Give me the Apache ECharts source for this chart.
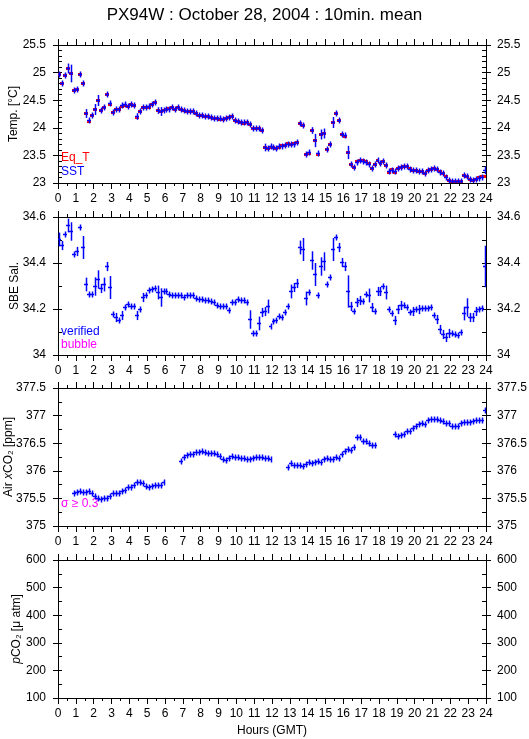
<!DOCTYPE html>
<html><head><meta charset="utf-8">
<script src="https://cdn.jsdelivr.net/npm/echarts@6/dist/echarts.min.js"></script>
<style>html,body{margin:0;padding:0;background:#fff}#c{width:529px;height:739px}</style>
</head><body><div id="c"></div><script>
// 10-minute means, index i -> hour (i+0.5)/6
const sst = [
24.97,24.82,24.95,25.09,24.99,24.68,24.70,24.97,24.82,24.26,
24.14,24.24,24.34,24.50,24.32,24.38,24.61,24.45,24.29,24.34,
24.34,24.41,24.43,24.40,24.44,24.41,24.21,24.30,24.38,24.38,
24.39,24.44,24.47,24.33,24.30,24.32,24.34,24.34,24.38,24.34,
24.37,24.34,24.32,24.31,24.31,24.31,24.26,24.23,24.23,24.22,
24.22,24.19,24.17,24.17,24.17,24.16,24.18,24.19,24.21,24.15,
24.13,24.11,24.10,24.10,24.06,24.00,24.00,24.00,23.96,23.66,
23.64,23.67,23.65,23.64,23.67,23.67,23.68,23.71,23.70,23.71,
23.74,24.08,24.05,23.52,23.56,23.96,23.77,23.54,23.88,23.90,
23.62,23.71,24.10,24.26,24.15,23.88,23.87,23.56,23.35,23.29,
23.38,23.41,23.40,23.38,23.35,23.28,23.34,23.41,23.36,23.39,
23.33,23.21,23.24,23.21,23.27,23.29,23.30,23.30,23.26,23.23,
23.24,23.22,23.22,23.19,23.23,23.25,23.27,23.26,23.20,23.18,
23.11,23.06,23.04,23.04,23.04,23.04,23.14,23.13,23.08,23.05,
23.07,23.09,23.11,23.24];
const sstErr = [
.05,.04,.02,.09,.16,.03,.05,.03,.04,.08,
.01,.03,.10,.10,.04,.04,.02,.05,.04,.04,
.04,.03,.02,.02,.02,.05,.06,.03,.03,.03,
.02,.03,.03,.06,.08,.02,.02,.02,.03,.03,
.01,.01,.01,.01,.01,.01,.02,.01,.01,.01,
.01,.01,.01,.01,.01,.01,.01,.01,.01,.01,
.01,.01,.01,.01,.02,.01,.01,.01,.05,.07,
.02,.01,.01,.01,.01,.01,.01,.02,.02,.03,
.02,.04,.04,.04,.03,.06,.12,.02,.09,.09,
.02,.03,.10,.02,.03,.04,.02,.12,.02,.01,
.04,.01,.01,.01,.02,.01,.02,.01,.03,.01,
.03,.02,.01,.02,.01,.01,.01,.01,.01,.01,
.01,.01,.01,.01,.01,.01,.01,.01,.01,.02,
.01,.01,.01,.01,.01,.01,.02,.03,.01,.01,
.01,.01,.01,.07];
const eqT = [
24.97,24.82,24.95,25.09,24.99,24.68,24.70,24.97,24.82,24.26,
24.13,24.24,24.34,24.50,24.32,24.38,24.61,24.44,24.29,24.34,
24.34,24.40,24.42,24.39,24.44,24.41,24.20,24.30,24.37,24.37,
24.38,24.44,24.47,24.33,24.30,24.32,24.34,24.36,24.37,24.34,
24.37,24.34,24.32,24.31,24.31,24.31,24.26,24.23,24.23,24.22,
24.21,24.19,24.18,24.17,24.16,24.16,24.18,24.19,24.21,24.14,
24.13,24.11,24.09,24.10,24.06,24.00,24.00,24.00,23.96,23.66,
23.63,23.66,23.65,23.63,23.66,23.68,23.69,23.72,23.71,23.72,
23.75,24.09,24.05,23.52,23.55,23.96,23.77,23.53,23.88,23.90,
23.61,23.71,24.10,24.26,24.15,23.88,23.86,23.56,23.34,23.29,
23.39,23.42,23.41,23.39,23.36,23.28,23.35,23.42,23.37,23.40,
23.33,23.20,23.25,23.20,23.27,23.29,23.31,23.30,23.27,23.23,
23.24,23.22,23.21,23.19,23.24,23.26,23.27,23.26,23.21,23.18,
23.12,23.06,23.04,23.03,23.03,23.03,23.15,23.13,23.08,23.06,
23.07,23.10,23.12,23.12];
const sal = [
34.505,34.48,34.527,34.564,34.54,34.437,34.452,34.556,34.469,34.309,
34.266,34.266,34.30,34.33,34.29,34.31,34.389,34.295,34.179,34.167,
34.153,34.176,34.208,34.22,34.215,34.215,34.176,34.20,34.251,34.259,
34.283,34.288,34.292,34.273,34.251,34.28,34.28,34.266,34.259,34.259,
34.263,34.259,34.254,34.259,34.261,34.261,34.248,34.244,34.244,34.24,
34.237,34.234,34.232,34.219,34.215,34.211,34.211,34.196,34.232,34.232,
34.244,34.241,34.24,34.23,34.157,34.096,34.096,34.138,34.186,34.193,
34.211,34.125,34.15,34.153,34.169,34.167,34.186,34.215,34.28,34.295,
34.312,34.469,34.462,34.248,34.273,34.411,34.353,34.259,34.389,34.408,
34.309,34.341,34.462,34.513,34.469,34.404,34.389,34.28,34.215,34.19,
34.23,34.24,34.234,34.266,34.263,34.208,34.193,34.277,34.277,34.302,
34.273,34.20,34.182,34.153,34.20,34.219,34.219,34.208,34.186,34.193,
34.20,34.20,34.203,34.205,34.203,34.208,34.176,34.157,34.113,34.092,
34.077,34.094,34.094,34.092,34.089,34.099,34.182,34.208,34.164,34.164,
34.19,34.20,34.205,34.385];
const salErr = [
.03,.02,.01,.03,.04,.01,.02,.01,.05,.03,
.01,.01,.04,.04,.02,.03,.02,.05,.01,.02,
.01,.02,.01,.01,.01,.01,.02,.01,.02,.01,
.01,.01,.01,.03,.04,.01,.01,.01,.01,.01,
.01,.01,.005,.005,.005,.01,.005,.005,.005,.005,
.005,.005,.005,.005,.005,.005,.005,.005,.005,.005,
.005,.005,.005,.01,.04,.01,.01,.03,.02,.02,
.03,.005,.01,.01,.01,.01,.01,.01,.03,.02,
.02,.03,.05,.03,.01,.04,.05,.01,.04,.04,
.01,.01,.05,.01,.02,.02,.02,.07,.02,.01,
.02,.02,.01,.01,.03,.02,.01,.02,.02,.01,
.03,.01,.01,.02,.02,.02,.01,.01,.01,.02,
.01,.02,.01,.01,.01,.01,.01,.02,.02,.02,
.02,.02,.01,.01,.01,.01,.03,.04,.02,.02,
.02,.01,.01,.09];
const xco2 = [
null,null,null,null,null,375.60,375.61,375.63,375.61,375.61,
375.63,375.59,375.54,375.51,375.49,375.50,375.51,375.55,375.60,375.60,
375.59,375.63,375.65,375.70,375.70,375.75,375.80,375.80,375.77,375.73,
375.70,375.73,375.75,375.75,375.75,375.80,null,null,null,null,
null,376.17,376.25,376.28,376.30,376.31,376.34,376.34,376.36,376.34,
376.33,376.33,376.33,376.30,376.27,376.22,376.19,376.23,376.27,376.25,
376.25,376.23,376.23,376.22,376.22,376.23,376.25,376.25,376.25,376.23,
376.23,376.22,null,null,null,null,null,376.07,376.14,376.11,
376.11,376.10,376.08,376.13,376.16,376.14,376.16,376.17,376.16,376.22,
376.23,376.22,376.22,376.25,376.23,376.31,376.36,376.39,376.38,376.43,
376.61,376.61,376.54,376.54,376.51,376.46,376.46,null,null,null,
null,null,null,376.66,376.63,376.64,376.66,376.72,376.73,376.78,
376.81,376.84,376.86,376.84,376.92,376.93,376.93,376.93,376.92,376.91,
376.87,376.86,376.82,376.82,376.82,376.87,376.88,376.88,376.88,376.90,
376.92,376.92,376.92,377.11];
const xco2Err = [
0,0,0,0,0,.03,.03,.05,.03,.03,
.03,.02,.02,.03,.02,.02,.02,.02,.02,.02,
.02,.02,.02,.03,.02,.02,.03,.02,.02,.02,
.02,.02,.02,.02,.02,.02,0,0,0,0,
0,.04,.02,.02,.02,.02,.02,.03,.02,.02,
.02,.02,.02,.02,.02,.02,.04,.02,.02,.02,
.02,.02,.02,.02,.02,.02,.02,.02,.02,.02,
.02,.03,0,0,0,0,0,.03,.03,.02,
.02,.02,.02,.02,.02,.02,.02,.02,.02,.02,
.02,.02,.02,.02,.02,.02,.02,.02,.02,.02,
.05,.05,.03,.02,.02,.02,.02,0,0,0,
0,0,0,.03,.02,.02,.02,.02,.02,.02,
.02,.02,.02,.02,.02,.02,.02,.02,.02,.02,
.02,.02,.02,.02,.02,.02,.02,.02,.02,.02,
.02,.02,.02,.05];
const hourLabels = ['0','1','2','3','4','5','6','7','8','9','10','11','12','13','14','15','16','17','18','19','20','21','22','23','24'];

const FONT = '"Liberation Sans", Arial, Helvetica, sans-serif';
const BLUE = '#0000ff', RED = '#ff0000', MAG = '#ff00ff';
const tops = [45, 217, 388, 560];
const H = 138;
const panels = [
  {min:23, max:25.5, interval:0.5, minor:0.1, name:'Temp. [°C]', gap:38},
  {min:34, max:34.6, interval:0.2, minor:0.1, name:'SBE Sal.', gap:37},
  {min:375, max:377.5, interval:0.5, minor:0.25, name:'Air {i|x}CO₂ [ppm]', gap:43},
  {min:100, max:600, interval:100, minor:50, name:'{i|p}CO₂ [μ atm]', gap:35}
];

function toData(vals, errs){
  const out = [];
  vals.forEach((v,i)=>{ if(v!==null && v!==undefined) out.push([(i+0.5)/6, v, errs ? errs[i] : 0]); });
  return out;
}
function makeRender(color, lw, vertical){
  return function(params, api){
    const x = api.value(0), y = api.value(1), e = api.value(2);
    const c = api.coord([x, y]);
    const pL = api.coord([x - 1/12, y]), pR = api.coord([x + 1/12, y]);
    const cy = Math.round(c[1]) + 0.5, cx = Math.round(c[0]) + 0.5;
    const children = [{type:'line', shape:{x1:Math.floor(pL[0]), y1:cy, x2:Math.ceil(pR[0]), y2:cy}, style:{stroke:color, lineWidth:lw}}];
    if (vertical){
      const eh = Math.max(Math.abs(api.coord([x, y + e])[1] - c[1]), 3);
      children.push({type:'line', shape:{x1:cx, y1:cy-eh, x2:cx, y2:cy+eh}, style:{stroke:color, lineWidth:lw}});
    }
    return {type:'group', children};
  };
}

const grid = [], xAxis = [], yAxis = [];
const lineStyle = {color:'#000', width:1};
for (let r = 0; r < 2; r++) panels.forEach((p, k)=>{
  grid.push({left:58, right:43, top:tops[k], height:H, containLabel:false, outerBoundsMode:'none'});
});
panels.forEach((p, k)=>{
  const xBase = {type:'value', gridIndex:k, min:0, max:24, interval:1,
    axisLine:{show:true, onZero:false, lineStyle},
    axisTick:{show:true, inside:false, length:6, lineStyle},
    minorTick:{show:true, splitNumber:2, length:3, lineStyle},
    splitLine:{show:false}, minorSplitLine:{show:false}};
  xAxis.push(Object.assign({}, xBase, {position:'bottom',
    axisLabel:{show:true, margin:10, fontSize:12, fontFamily:FONT, color:'#000',
      formatter:(v)=>hourLabels[Math.round(v)]},
    name: k===3 ? 'Hours (GMT)' : '', nameLocation:'middle', nameGap:27, nameMoveOverlap:false,
    nameTextStyle:{fontSize:12, fontFamily:FONT, color:'#000'}}));
  xAxis.push(Object.assign({}, xBase, {position:'top', axisLabel:{show:false}}));
  xAxis.push({type:'value', gridIndex:k+4, min:0, max:24, show:false});

  const yBase = {type:'value', gridIndex:k, min:p.min, max:p.max, interval:p.interval,
    axisLine:{show:true, onZero:false, lineStyle},
    axisTick:{show:true, inside:false, length:5, lineStyle},
    splitLine:{show:false}};
  yAxis.push(Object.assign({}, yBase, {position:'left',
    axisLabel:{show:true, margin:12, fontSize:12, fontFamily:FONT, color:'#000'},
    name:p.name, nameLocation:'middle', nameGap:p.gap, nameRotate:90, nameMoveOverlap:false,
    nameTextStyle:{fontSize:12, fontFamily:FONT, color:'#000',
      rich:{i:{fontStyle:'italic', fontSize:12, fontFamily:FONT, color:'#000'}}}}));
  yAxis.push(Object.assign({}, yBase, {position:'right',
    axisLabel:{show:true, margin:11, fontSize:12, fontFamily:FONT, color:'#000'}}));
  const yMinor = {type:'value', gridIndex:k+4, min:p.min, max:p.max, interval:p.minor,
    axisLine:{show:false}, axisLabel:{show:false}, splitLine:{show:false},
    axisTick:{show:true, inside:true, length:4, lineStyle}};
  yAxis.push(Object.assign({}, yMinor, {position:'left'}));
  yAxis.push(Object.assign({}, yMinor, {position:'right'}));
});

const series = [
  {type:'custom', name:'Eq_T', xAxisIndex:0, yAxisIndex:0, clip:true,
   renderItem:makeRender(RED, 3, false), data:toData(eqT, null), z:2},
  {type:'custom', name:'SST', xAxisIndex:0, yAxisIndex:0, clip:true,
   renderItem:makeRender(BLUE, 1.5, true), data:toData(sst, sstErr), z:3},
  {type:'custom', name:'verified', xAxisIndex:3, yAxisIndex:4, clip:true,
   renderItem:makeRender(BLUE, 1.5, true), data:toData(sal, salErr), z:3},
  {type:'custom', name:'xCO2', xAxisIndex:6, yAxisIndex:8, clip:true,
   renderItem:makeRender(BLUE, 1.5, true), data:toData(xco2, xco2Err), z:3}
];

const txt = (t, x, y, color) => ({type:'text', x, y, style:{text:t, fill:color, font:'12px '+FONT, textVerticalAlign:'middle'}});

const chart = echarts.init(document.getElementById('c'), null, {renderer:'canvas'});
chart.setOption({
  animation:false,
  backgroundColor:'#fff',
  title:{text:'PX94W : October 28, 2004 : 10min. mean', left:'center', top:2,
    textStyle:{fontSize:17, fontWeight:'normal', fontFamily:FONT, color:'#000'}},
  grid, xAxis, yAxis, series,
  graphic:[
    txt('Eq_T', 61, 158, RED), txt('SST', 61, 172, BLUE),
    txt('verified', 61, 332, BLUE), txt('bubble', 61, 345, MAG),
    txt('σ ≥ 0.3', 61, 504, MAG)
  ]
});
</script></body></html>
